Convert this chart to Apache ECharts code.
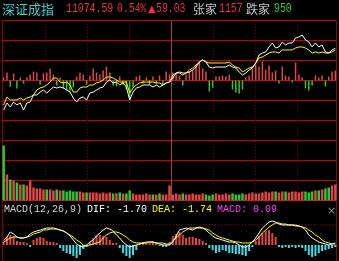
<!DOCTYPE html>
<html><head><meta charset="utf-8">
<script src="https://cdn.jsdelivr.net/npm/echarts@6/dist/echarts.min.js"></script>
<style>html,body{margin:0;padding:0;background:#000;}#c{width:339px;height:261px;}</style>
</head><body><div id="c"></div>
<script>
// ---- header / labels ----
const indexName = '深证成指';
const lastPrice = '11074.59';
const pctChange = '0.54%';
const netChange = '59.03';
const upLabel = '张家', upCount = '1157';
const downLabel = '跌家', downCount = '950';
const macdName = 'MACD(12,26,9)';
const difText = 'DIF: -1.70', deaText = 'DEA: -1.74', macdText = 'MACD: 0.09';
const prevClose = 11015.56;

// ---- intraday series (101 samples across the session) ----
const price = [10961.4,10974.3,10966.9,10976.1,10970.6,10974.3,10961.4,10974.3,10976.1,10989.0,
 10989.0,10994.4,10998.1,10992.6,10998.1,11003.6,11001.8,11003.6,11001.8,10998.1,
 10994.4,10983.4,10976.1,10983.4,10985.3,10979.8,10992.6,10994.4,10998.1,11001.8,
 11003.6,11012.8,11016.5,11011.0,11012.8,11007.3,11011.0,11003.6,10979.8,10994.4,
 11001.8,11003.6,11007.3,11007.3,11007.3,11003.6,11007.3,11003.6,11007.3,11011.0,
 11012.8,11020.2,11029.3,11031.2,11029.3,11029.3,11031.2,11034.8,11040.3,11049.5,
 11053.2,11049.5,11040.3,11038.5,11040.3,11040.3,11040.3,11040.3,11044.0,11040.3,
 11038.5,11031.2,11025.7,11029.3,11034.8,11038.5,11047.7,11062.4,11066.0,11067.9,
 11077.1,11084.4,11075.2,11077.1,11086.2,11080.7,11084.4,11084.4,11093.6,11095.4,
 11099.1,11089.9,11086.2,11077.1,11084.4,11077.1,11080.7,11067.9,11066.0,11071.6,
 11074.6];
const avgPrice = [10970.6,10985.3,10979.8,10979.8,10979.8,10983.4,10979.8,10983.4,10985.3,10989.0,
 10998.1,11001.8,11003.6,11007.3,11012.8,11020.2,11020.2,11012.8,11011.0,11012.8,
 11007.3,10994.4,10994.4,11001.8,11003.6,11003.6,11007.3,11007.3,11011.0,11012.8,
 11016.5,11022.0,11022.0,11020.2,11016.5,11012.8,11012.8,11012.8,10992.6,11001.8,
 11007.3,11011.0,11012.8,11012.8,11012.8,11012.8,11011.0,11011.0,11007.3,11011.0,
 11012.8,11025.7,11029.3,11029.3,11025.7,11029.3,11034.8,11038.5,11044.0,11049.5,
 11053.2,11049.5,11047.7,11047.7,11047.7,11047.7,11047.7,11047.7,11049.5,11044.0,
 11040.3,11038.5,11031.2,11034.8,11038.5,11040.3,11047.7,11056.9,11058.7,11062.4,
 11066.0,11067.9,11067.9,11066.0,11071.6,11071.6,11071.6,11071.6,11075.2,11077.1,
 11077.1,11075.2,11071.6,11066.0,11067.9,11066.0,11067.9,11066.0,11066.0,11067.9,
 11071.6];
const strength = [3,8,-6,7,-8,3,-3,3,6,9, 8,-4,7,8,12,6,-5,3,-8,-10,
 -11,-7,4,8,6,-4,5,12,8,6, 10,14,8,-5,-6,4,-4,-9,-19,-7,
 4,5,-3,3,-4,4,-3,5,-5,9, 6,8,7,5,-5,6,9,10,16,19,
 12,9,-11,-7,4,4,5,4,6,-9, -12,-13,-9,3,5,12,16,14,19,11,
 15,8,10,-3,14,5,4,-2,18,6, 3,-8,-10,-5,5,3,5,-6,4,9, 10];
const volume = [55,26,21,20,18,16,16,15,20,13, 12,12,11,11,11,10,11,10,10,9,
 10,9,9,9,8,8,8,8,8,7, 8,7,8,7,7,8,7,7,10,7,
 6,6,6,7,6,6,6,7,6,6, 15,6,7,6,7,6,6,7,6,6,
 7,6,5,6,7,6,6,7,6,7, 6,6,7,6,7,8,7,7,8,9,
 8,9,9,8,9,9,8,9,9,8, 9,9,8,9,10,10,11,12,13,15, 16];
const dif = [5,8,13,11,8,7,7,8,11,13, 14,15,16,17,17,17,16,15,14,12,
 9,5,1,-1,-2,0,3,5,9,12, 15,17,16,14,10,7,3,0,-2,-1,
 0,1,2,3,3,3,2,1,0,0, 0,3,9,15,16,17,16,15,17,18,
 17,15,12,9,7,6,5,4,3,3, 2,0,-2,-2,0,3,7,12,17,20,
 23,24,23,21,20,20,20,20,19,19, 18,15,10,7,5,3,2,1,0,1, 2];
const dea = [3,5,7,8,8,7,7,8,9,11, 12,13,15,15,16,16,16,15,14,12,
 10,8,5,3,0,-1,0,1,2,3, 7,10,12,13,13,12,10,8,5,3,
 2,2,2,2,3,3,2,2,2,1, 1,4,7,10,13,15,17,17,17,17,
 17,16,15,12,10,8,7,6,5,4, 3,3,2,2,2,3,5,8,12,15,
 18,20,22,22,21,21,20,20,20,19, 18,17,15,13,10,8,5,3,2,1, 1];
const macd = [3,8,10,9,4,3,3,2,-2,5, 7,8,7,4,3,3,2,-3,-6,-8,
 -9,-11,-13,-10,-4,-2,3,7,10,10, 9,8,5,2,2,-3,-8,-11,-13,-10,
 -5,2,3,2,2,3,2,-1,-2,-2, 3,9,11,13,10,7,8,8,7,6,
 4,2,-3,-5,-8,-7,-5,-6,-8,-8, -9,-9,-10,-11,-6,-2,4,9,12,14,
 15,12,8,-2,-3,-2,-3,-2,-3,-2, -3,-6,-10,-12,-11,-8,-6,-5,-4,-3, -2];
const slots = price.map((_, i) => String(i));

// ---- styling ----
const RED = '#e04848', GREEN = '#30c830', CYAN = '#40dce8';
const GRID_RED = '#c80000';

const graphics = [];
[20,40,60,80,100,120,140,160,180,200].forEach(r => graphics.push({type:'line', silent:true, z:0,
  shape:{x1:2, y1:r+0.5, x2:337, y2:r+0.5}, style:{stroke:GRID_RED, lineWidth:1}}));
[45,87,129,213,255,297].forEach(c => graphics.push({type:'line', silent:true, z:0,
  shape:{x1:c+0.5, y1:21, x2:c+0.5, y2:200}, style:{stroke:'#780000', lineWidth:1, lineDash:[1,2]}}));
graphics.push({type:'line', silent:true, z:0, shape:{x1:171.5,y1:21,x2:171.5,y2:200}, style:{stroke:'#b04040', lineWidth:1}});
graphics.push({type:'line', silent:true, z:0, shape:{x1:2.5,y1:20,x2:2.5,y2:261}, style:{stroke:'#900000', lineWidth:1}});
graphics.push({type:'line', silent:true, z:0, shape:{x1:336.5,y1:20,x2:336.5,y2:261}, style:{stroke:'#900000', lineWidth:1}});
graphics.push({type:'line', silent:true, z:0, shape:{x1:2,y1:224.5,x2:337,y2:224.5}, style:{stroke:'#900000', lineWidth:1, lineDash:[1,2]}});

function txt(t, x, y, fill, font, sx){
  return {type:'text', silent:true, z:10, x:x, y:y, scaleX: sx || 1,
    style:{text:t, fill:fill, font:font, textVerticalAlign:'middle', verticalAlign:'middle'}};
}
const MONO = '"Liberation Mono", "DejaVu Sans Mono", monospace';
const CJK = '"Noto Sans CJK SC", sans-serif';
const HRED = '#f0303c';
graphics.push(txt(indexName, 2, 9, '#40d0d0', '13px ' + CJK));
graphics.push(txt(lastPrice, 66, 9, HRED, '12px ' + MONO, 0.82));
graphics.push(txt(pctChange, 117, 9, HRED, '12px ' + MONO, 0.82));
graphics.push(txt('▲', 148, 9, HRED, '10px "DejaVu Sans", sans-serif'));
graphics.push(txt(netChange, 156, 9, HRED, '12px ' + MONO, 0.82));
graphics.push(txt(upLabel, 193, 9, '#c8c8c8', '12px ' + CJK));
graphics.push(txt(upCount, 219, 9, HRED, '12px ' + MONO, 0.82));
graphics.push(txt(downLabel, 246, 9, '#c8c8c8', '12px ' + CJK));
graphics.push(txt(downCount, 274, 9, '#30d030', '12px ' + MONO, 0.82));
graphics.push(txt(macdName, 4, 209, '#d8d8d8', '10px ' + MONO));
graphics.push(txt(difText, 87, 209, '#ffffff', '10px ' + MONO));
graphics.push(txt(deaText, 152, 209, '#ffff00', '10px ' + MONO));
graphics.push(txt(macdText, 217, 209, '#ff40ff', '10px ' + MONO));
graphics.push(txt('×', 327, 211, '#909090', '11px "DejaVu Sans", sans-serif'));

const chart = echarts.init(document.getElementById('c'), null, {renderer:'canvas'});
const hiddenX = (gi) => ({type:'category', gridIndex:gi, data:slots, boundaryGap:true, show:false});
chart.setOption({
  backgroundColor:'#000',
  animation:false,
  graphic: graphics,
  grid:[
    {left:2, right:2, top:20.5, height:120},
    {left:2, right:2, top:140.5, height:60},
    {left:2, right:2, top:215, height:46}
  ],
  xAxis:[hiddenX(0), hiddenX(1), hiddenX(2)],
  yAxis:[
    {type:'value', gridIndex:0, min:prevClose*0.99, max:prevClose*1.01, show:false, splitLine:{show:false}},
    {type:'value', gridIndex:0, min:-60, max:60, show:false, splitLine:{show:false}},
    {type:'value', gridIndex:1, min:0, max:60, show:false, splitLine:{show:false}},
    {type:'value', gridIndex:2, min:-16, max:30, show:false, splitLine:{show:false}}
  ],
  series:[
    {type:'bar', xAxisIndex:0, yAxisIndex:1, data:strength, barWidth:1.5, z:2,
      itemStyle:{color:p => p.value >= 0 ? RED : GREEN}},
    {type:'line', xAxisIndex:0, yAxisIndex:0, data:avgPrice, showSymbol:false, z:3,
      lineStyle:{color:'#ffff00', width:1}},
    {type:'line', xAxisIndex:0, yAxisIndex:0, data:price, showSymbol:false, z:4,
      lineStyle:{color:'#ffffff', width:1}},
    {type:'bar', xAxisIndex:1, yAxisIndex:2, data:volume, barCategoryGap:'25%', z:2,
      itemStyle:{color:p => price[p.dataIndex] >= (p.dataIndex ? price[p.dataIndex-1] : prevClose) ? RED : GREEN}},
    {type:'bar', xAxisIndex:2, yAxisIndex:3, data:macd, barWidth:2, z:2,
      itemStyle:{color:p => p.value >= 0 ? RED : CYAN}},
    {type:'line', xAxisIndex:2, yAxisIndex:3, data:dea, showSymbol:false, z:3,
      lineStyle:{color:'#ffff00', width:1}},
    {type:'line', xAxisIndex:2, yAxisIndex:3, data:dif, showSymbol:false, z:4,
      lineStyle:{color:'#ffffff', width:1}}
  ]
});
</script></body></html>
